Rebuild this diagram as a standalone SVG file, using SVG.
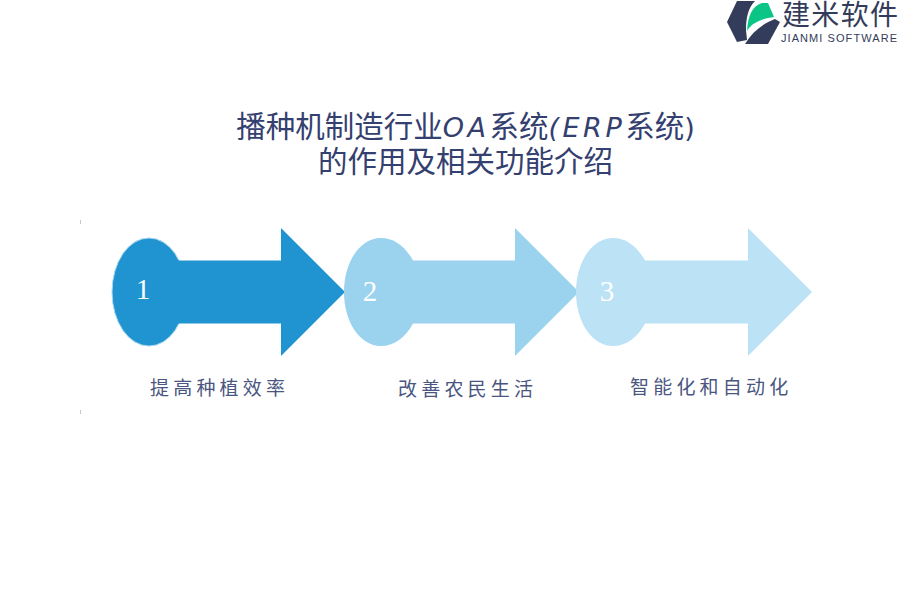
<svg xmlns="http://www.w3.org/2000/svg" width="900" height="600" viewBox="0 0 900 600">
<style>
.t{font-family:"Noto Sans CJK SC","Noto Sans",sans-serif;fill:#34406f;font-size:29.500px;text-anchor:middle}
.tl{font-family:"DejaVu Sans",sans-serif;font-style:italic;font-size:27px;letter-spacing:3.500px}
.tp{font-family:"DejaVu Sans",sans-serif;font-size:27px}
.l{font-family:"Noto Sans CJK SC",serif;fill:#4a5680;font-size:19px;letter-spacing:4.200px}
.n{font-family:"Liberation Serif",serif;fill:#fff;font-size:29px;text-anchor:middle}
.logo{fill:#333c5a}
</style>
<rect width="900" height="600" fill="#fff"/>
<g id="logo">
<path class="logo" d="M737 1H755C748 8 746 18 746 30L747 40L737 42L727 22Z"/>
<path d="M747 31C748 16 752 6 762 3L768 3L774 17C764 18 752 22 747 31Z" fill="#0bc587"/>
<path class="logo" d="M745 44H768L780 22L775 19C762 24 752 32 745 44Z"/>
<text x="782" y="25" font-family="Noto Sans CJK SC,sans-serif" font-size="28" fill="#333c5a" textLength="116">建米软件</text>
<text x="781" y="42" font-family="Liberation Sans,sans-serif" font-size="11" fill="#333c5a" textLength="116">JIANMI SOFTWARE</text>
</g>
<g id="title">
<text class="t" x="465.500" y="137">播种机制造行业<tspan class="tl">OA</tspan>系统<tspan class="tl">(ERP</tspan>系统<tspan class="tp">)</tspan></text>
<text class="t" x="465.500" y="172">的作用及相关功能介绍</text>
</g>
<g id="ticks" fill="#c8c8c8"><rect x="80" y="220" width="1" height="4"/><rect x="80" y="410" width="1" height="4"/></g>
<g id="connectors"></g>
<g id="node-1">
<ellipse cx="149" cy="292" rx="37" ry="54" fill="#2094d0" stroke="#a6d7ee" stroke-width="1"/>
<path d="M281 228L345 292L281 356V323.500H178V260.500H281Z" fill="#2094d0"/>
<text class="n" x="143" y="299">1</text>
<text class="l" x="150" y="395">提高种植效率</text>
</g>
<g id="node-2">
<path d="M515 228L579 292L515 356V323.500H413C405 338 394 346 381 346C360 346 344 322 344 292C344 262 360 238 381 238C394 238 405 246 413 260.500H515Z" fill="#9bd3ef"/>
<text class="n" x="370" y="301">2</text>
<text class="l" x="398" y="396">改善农民生活</text>
</g>
<g id="node-3">
<path d="M748 228L812 292L748 356V323.500H645C637 338 626 346 613 346C592 346 576 322 576 292C576 262 592 238 613 238C626 238 637 246 645 260.500H748Z" fill="#bce2f6"/>
<text class="n" x="607" y="301">3</text>
<text class="l" x="630" y="394">智能化和自动化</text>
</g>
</svg>
